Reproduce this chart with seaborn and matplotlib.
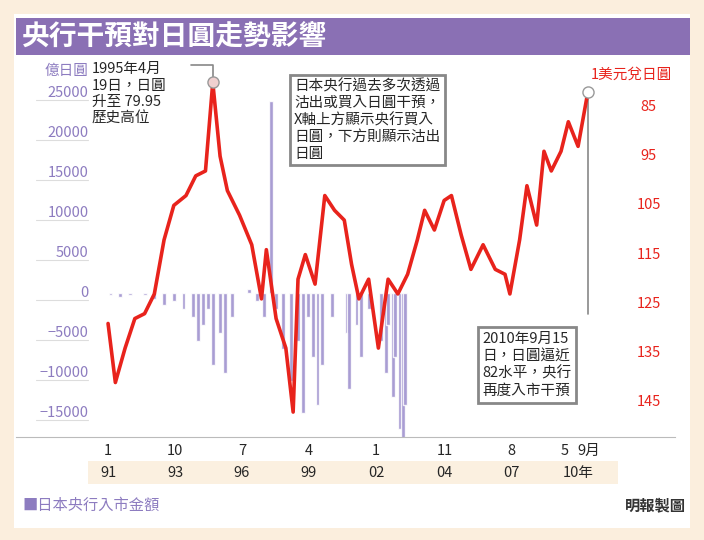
import matplotlib
matplotlib.use("Agg")
import matplotlib.pyplot as plt
import seaborn as sns
from matplotlib.patches import Rectangle
import matplotlib.transforms as mtr

sns.set_style("white")
plt.rcParams['font.family'] = ['Noto Sans CJK TC', 'DejaVu Sans']

title = "央行干預對日圓走勢影響"
fx_t = [1991.0,1991.3,1991.7,1992.1,1992.5,1992.9,1993.3,1993.7,1994.2,1994.6,1995.0,1995.3,1995.6,1995.9,
        1996.4,1996.9,1997.3,1997.5,1997.9,1998.3,1998.6,1998.8,1999.1,1999.5,1999.9,2000.3,2000.7,2001.0,
        2001.3,2001.7,2002.1,2002.5,2002.9,2003.3,2003.7,2004.0,2004.4,2004.8,2005.1,2005.5,2005.9,2006.4,
        2006.9,2007.3,2007.5,2007.9,2008.2,2008.6,2008.9,2009.2,2009.6,2009.9,2010.3,2010.7]
fx_v = [129,141,134,128,127,123,112,105,103,99,98,80,95,102,
        107,113,124,114,128,134,147,120,115,121,103,106,108,117,
        124,120,134,120,123,119,112,106,110,104,103,111,118,113,
        118,119,123,112,101,109,94,98,94,88,93,82]
iv_t = [1991.1,1991.5,1991.9,1992.5,1992.9,1993.3,1993.7,1994.1,1994.5,1994.7,1994.9,1995.1,1995.3,1995.6,
        1995.8,1996.1,1996.8,1997.1,1997.4,1997.7,1997.9,1998.2,1998.5,1998.8,1999.0,1999.2,1999.4,1999.6,
        1999.8,2000.2,2000.8,2000.9,2001.2,2001.4,2001.7,2002.2,2002.4,2002.5,2002.7,2002.8,2003.0,2003.1,2003.2]
iv_v = [-300,-500,-200,-300,-800,-1500,-1000,-2000,-3000,-6000,-4000,-2000,-9000,-5000,
        -10000,-3000,500,-1000,-3000,24000,-2000,-7000,-11000,-6000,-15000,-3000,-8000,-14000,
        -9000,-3000,-5000,-12000,-4000,-8000,-2000,-6000,-10000,-4000,-13000,-8000,-17000,-18500,-14000]
left_ticks = [25000,20000,15000,10000,5000,0,-5000,-10000,-15000]
right_ticks = [85,95,105,115,125,135,145]
month_pos = [1991.0,1993.75,1996.5,1999.25,2002.0,2004.83,2007.58,2009.75,2010.75]
month_lab = ["1","10","7","4","1","11","8","5","9月"]
year_lab = ["91","93","96","99","02","04","07","10年"]

W,H = 704,540
fig = plt.figure(figsize=(7.04,5.4), dpi=100, facecolor="#fbeedd")
fig.patches.append(Rectangle((14/W,12/H),676/W,514/H,transform=fig.transFigure,facecolor="white",edgecolor="none",zorder=0))
fig.patches.append(Rectangle((16/W,(H-55)/H),674/W,37/H,transform=fig.transFigure,facecolor="#8a70b4",edgecolor="none",zorder=1))
fig.patches.append(Rectangle((88/W,(H-484)/H),530/W,23/H,transform=fig.transFigure,facecolor="#fbf0e0",edgecolor="none",zorder=1))
fig.text(22/W,(H-37)/H,title,color="white",fontsize=20,fontweight="bold",va="center")

ax = fig.add_axes([16/W,(H-437)/H,659/W,377/H])
ax.set_zorder(5)
ax.set_xlim(1987.22,2014.28); ax.set_ylim(-18000,29125)
ax.set_facecolor("none")
for s in ax.spines.values(): s.set_visible(False)
ax.spines['bottom'].set_visible(True); ax.spines['bottom'].set_color("#bbbbbb")
ax.bar(iv_t, iv_v, width=0.16, color="#9a8ccc", alpha=0.85, zorder=2)
ax.set_yticks([]); ax.set_xticks(month_pos); ax.set_xticklabels(month_lab, fontsize=10.5)
ax.tick_params(axis='x', length=4, color="#bbbbbb", pad=1)
tr = mtr.blended_transform_factory(ax.transAxes, ax.transData)
for v in left_ticks:
    ax.text(0.11, v, str(v).replace("-","−"), transform=tr, ha="right", va="center", color="#8d7cc0", fontsize=10.5)
    ax.plot([0.03,0.11],[v-900,v-900], transform=tr, color="#dddddd", lw=0.8)
ax.text(0.11, 27800, "億日圓", transform=tr, ha="right", va="center", color="#8d7cc0", fontsize=10.5)

ax2 = ax.twinx()
ax2.set_zorder(6)
ax2.patch.set_visible(False)
ax2.set_ylim(152.07,75.45)
for s in ax2.spines.values(): s.set_visible(False)
ax2.set_yticks([])
ax2.plot(fx_t, fx_v, color="#e8231c", lw=2.6, zorder=3)
tr2 = mtr.blended_transform_factory(ax2.transAxes, ax2.transData)
for v in right_ticks:
    ax2.text(0.96, v, str(v), transform=tr2, ha="center", va="center", color="#e8231c", fontsize=10.5)
ax2.text(0.995, 78.5, "1美元兌日圓", transform=tr2, ha="right", va="center", color="#e8231c", fontsize=10.5)
ax2.plot([1995.3],[80],marker="o",ms=8,mfc="#f0d0d0",mec="#999999",zorder=4)
ax2.plot([2010.7],[82],marker="o",ms=8,mfc="white",mec="#999999",zorder=4)
ax2.plot([1994.4,1995.3,1995.3],[76.5,76.5,80],color="#888888",lw=1.2)
ax2.plot([2010.7,2010.7],[82,127],color="#888888",lw=1.2)

fig.text(92/W,(H-94)/H,"1995年4月\n19日，日圓\n升至 79.95\n歷史高位",fontsize=10.5,va="center",linespacing=1.25,zorder=8)
fig.text(294/W,(H-120)/H,"日本央行過去多次透過\n沽出或買入日圓干預，\nX軸上方顯示央行買入\n日圓，下方則顯示沽出\n日圓",fontsize=10.5,va="center",linespacing=1.25,zorder=8,
         bbox=dict(facecolor="white",edgecolor="#888888",lw=2,boxstyle="square,pad=0.3"))
fig.text(482/W,(H-365)/H,"2010年9月15\n日，日圓逼近\n82水平，央行\n再度入市干預",fontsize=10.5,va="center",linespacing=1.3,zorder=8,
         bbox=dict(facecolor="white",edgecolor="#888888",lw=2,boxstyle="square,pad=0.3"))

for p,l in zip([1991.0,1993.75,1996.5,1999.25,2002.0,2004.83,2007.58,2010.3],year_lab):
    x = ax.transData.transform((p,0))[0]/W
    fig.text(x,(H-473)/H,l,ha="center",va="center",fontsize=10.5,zorder=2)
fig.text(22/W,(H-505)/H,"■日本央行入市金額",color="#8d7cc0",fontsize=11,va="center")
fig.text(686/W,(H-505)/H,"明報製圖",fontsize=11,va="center",ha="right",fontweight="bold",color="#333333")
fig.savefig("out.png", dpi=100, facecolor=fig.get_facecolor())
